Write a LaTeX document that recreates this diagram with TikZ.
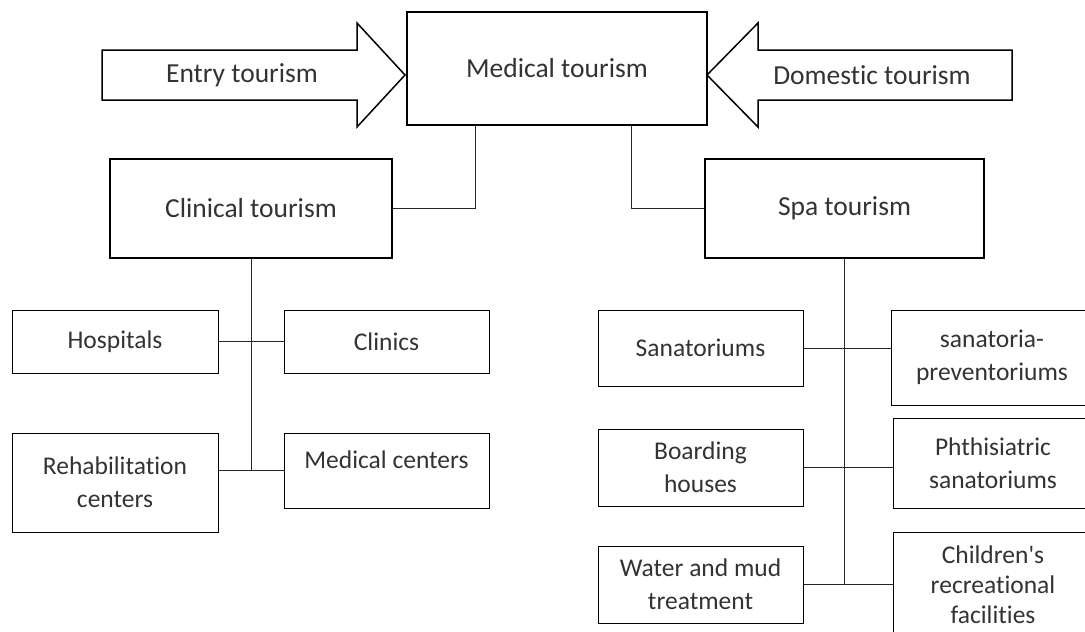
\documentclass[tikz,border=0pt]{standalone}
\usepackage{fontspec}
\setmainfont{Carlito}[Ligatures={TeXOff,CommonOff}]
\begin{document}
\begin{tikzpicture}[x=1pt, y=-1pt,
    bigbox/.style={draw=black, line width=1.5pt, text=black!80, inner sep=0pt,
        font=\fontsize{27.5}{33}\selectfont},
    smallbox/.style={draw=black, line width=1pt, text=black!80, inner sep=0pt,
        align=center, font=\fontsize{25.5}{33}\selectfont},
    wire/.style={draw=black!85, line width=1pt}]
        \useasboundingbox (0,0) rectangle (1085,632);
        \clip (0,0) rectangle (1085,632);

        \node[bigbox, minimum width=300pt, minimum height=113pt] (med) at (557,68.5) {Medical tourism};
        \node[bigbox, minimum width=282pt, minimum height=99pt] (clin) at (251,208.5) {Clinical tourism};
        \node[bigbox, minimum width=279pt, minimum height=99pt] (spa) at (844.5,208.5) {Spa tourism};

        % inflow arrows
        \draw[line width=1.5pt, line join=miter] (102,50) -- (357,50) -- (357,23) -- (405,75)
            -- (357,127) -- (357,100) -- (102,100) -- cycle;
        \node[text=black!80, font=\fontsize{27.5}{33}\selectfont] (entry) at (242,75) {Entry tourism};
        \draw[line width=1.5pt, line join=miter] (1012,50) -- (758,50) -- (758,23) -- (707,75)
            -- (758,127) -- (758,100) -- (1012,100) -- cycle;
        \node[text=black!80, font=\fontsize{27.5}{33}\selectfont] (domestic) at (872,75) {Domestic tourism};

        % clinical branch
        \node[smallbox, minimum width=206pt, minimum height=63pt] (hosp) at (115,341.5) {Hospitals};
        \node[smallbox, minimum width=205pt, minimum height=63pt] (clinics) at (386.5,341.5) {Clinics};
        \node[smallbox, minimum width=206pt, minimum height=99pt] (rehab) at (115,482.5) {Rehabilitation\\centers};
        \node[smallbox, minimum width=205pt, minimum height=75pt, text depth=21pt] (medc) at (386.5,470.5) {Medical centers};

        % spa branch
        \node[smallbox, minimum width=205pt, minimum height=76pt] (sanat) at (700.5,348) {Sanatoriums};
        \node[smallbox, minimum width=202pt, minimum height=95pt] (sanprev) at (992,357.5) {sanatoria-\\preventoriums};
        \node[smallbox, minimum width=205pt, minimum height=77pt] (board) at (700.5,467.5) {Boarding\\houses};
        \node[smallbox, minimum width=200pt, minimum height=90pt] (phth) at (993,463) {Phthisiatric\\sanatoriums};
        \node[smallbox, minimum width=205pt, minimum height=77pt] (water) at (700.5,584.5) {Water and mud\\treatment};
        \node[smallbox, minimum width=200pt, minimum height=124pt, text depth=18pt, font=\fontsize{25.5}{30}\selectfont]
            (child) at (993,594) {Children's\\recreational\\facilities};

        % connectors
        \draw[wire] ([xshift=-82pt]med.south) |- (clin.east);
        \draw[wire] ([xshift=74pt]med.south) |- (spa.west);

        \draw[wire] (clin.south) -- (clin.south |- medc.west);
        \draw[wire] (hosp.east) -- (clinics.west);
        \draw[wire] (rehab.east |- medc.west) -- (medc.west);

        \draw[wire] (spa.south) -- (spa.south |- water.east);
        \draw[wire] (sanat.east) -- (sanprev.west |- sanat.east);
        \draw[wire] (board.east) -- (phth.west |- board.east);
        \draw[wire] (water.east) -- (child.west |- water.east);
\end{tikzpicture}
\end{document}
